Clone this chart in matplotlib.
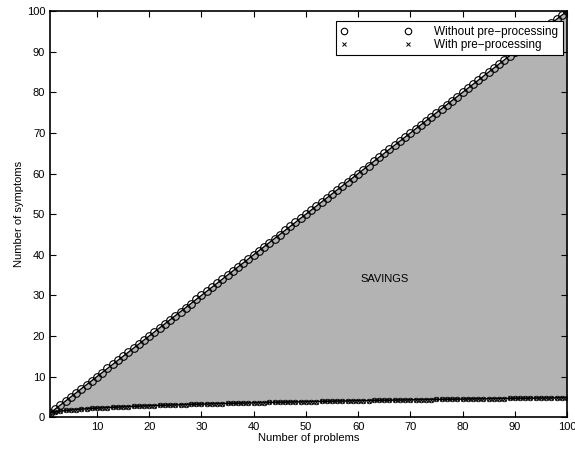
import numpy as np
import matplotlib
matplotlib.use("Agg")
import matplotlib.pyplot as plt

plt.rcParams['font.family'] = ['Liberation Sans', 'DejaVu Sans']

# number of problems (x axis)
problems = [
    1, 2, 3, 4, 5, 6, 7, 8, 9, 10,
    11, 12, 13, 14, 15, 16, 17, 18, 19, 20,
    21, 22, 23, 24, 25, 26, 27, 28, 29, 30,
    31, 32, 33, 34, 35, 36, 37, 38, 39, 40,
    41, 42, 43, 44, 45, 46, 47, 48, 49, 50,
    51, 52, 53, 54, 55, 56, 57, 58, 59, 60,
    61, 62, 63, 64, 65, 66, 67, 68, 69, 70,
    71, 72, 73, 74, 75, 76, 77, 78, 79, 80,
    81, 82, 83, 84, 85, 86, 87, 88, 89, 90,
    91, 92, 93, 94, 95, 96, 97, 98, 99, 100,
]

# symptoms without pre-processing
without_pre = [
    1, 2, 3, 4, 5, 6, 7, 8, 9, 10,
    11, 12, 13, 14, 15, 16, 17, 18, 19, 20,
    21, 22, 23, 24, 25, 26, 27, 28, 29, 30,
    31, 32, 33, 34, 35, 36, 37, 38, 39, 40,
    41, 42, 43, 44, 45, 46, 47, 48, 49, 50,
    51, 52, 53, 54, 55, 56, 57, 58, 59, 60,
    61, 62, 63, 64, 65, 66, 67, 68, 69, 70,
    71, 72, 73, 74, 75, 76, 77, 78, 79, 80,
    81, 82, 83, 84, 85, 86, 87, 88, 89, 90,
    91, 92, 93, 94, 95, 96, 97, 98, 99, 100,
]

# symptoms with pre-processing
with_pre = [
    1.00, 1.30, 1.50, 1.65, 1.78, 1.88, 1.98, 2.07, 2.15, 2.22,
    2.30, 2.36, 2.43, 2.49, 2.55, 2.60, 2.66, 2.71, 2.76, 2.81,
    2.85, 2.90, 2.94, 2.98, 3.02, 3.06, 3.10, 3.14, 3.18, 3.21,
    3.25, 3.28, 3.32, 3.35, 3.38, 3.41, 3.44, 3.48, 3.51, 3.54,
    3.57, 3.59, 3.62, 3.65, 3.68, 3.71, 3.73, 3.76, 3.78, 3.81,
    3.83, 3.86, 3.88, 3.91, 3.93, 3.96, 3.98, 4.00, 4.02, 4.05,
    4.07, 4.09, 4.11, 4.14, 4.16, 4.18, 4.20, 4.22, 4.24, 4.26,
    4.28, 4.30, 4.32, 4.34, 4.36, 4.38, 4.40, 4.42, 4.43, 4.45,
    4.47, 4.49, 4.51, 4.52, 4.54, 4.56, 4.58, 4.59, 4.61, 4.63,
    4.65, 4.66, 4.68, 4.70, 4.71, 4.73, 4.74, 4.76, 4.78, 4.80,
]

x_ticks = [10, 20, 30, 40, 50, 60, 70, 80, 90, 100]
y_ticks = [0, 10, 20, 30, 40, 50, 60, 70, 80, 90, 100]

fig = plt.figure(figsize=(5.75, 4.51), dpi=100)
ax = fig.add_axes([0.087, 0.075, 0.899, 0.9])

ax.fill_between(problems, with_pre, without_pre, color='#b3b3b3', lw=0)
ax.plot(problems, without_pre, 'k-', lw=1)
ax.plot(problems, with_pre, 'k-', lw=1)

ax.plot(problems, without_pre, 'o', ls='none', mfc='none', mec='k',
        ms=5.5, mew=0.8, label='Without pre\u2212processing')
ax.plot(problems, with_pre, 'o', ls='none', mfc='none', mec='k',
        ms=3.3, mew=0.6)
ax.plot(problems, with_pre, 'x', ls='none', mec='k',
        ms=3.5, mew=0.7, label='With pre\u2212processing')

ax.text(65, 34, 'SAVINGS', fontsize=8, ha='center', va='center')

ax.set_xlim(1, 100)
ax.set_ylim(0, 100)
ax.set_xticks(x_ticks)
ax.set_yticks(y_ticks)
ax.tick_params(direction='in', top=True, right=True, labelsize=8,
               length=4, width=0.8)
for s in ax.spines.values():
    s.set_linewidth(1.2)
ax.set_xlabel('Number of problems', fontsize=8, labelpad=1)
ax.set_ylabel('Number of symptoms', fontsize=8, labelpad=2)

leg = ax.legend(loc='upper right', fontsize=8.5, numpoints=2, markerscale=0.85,
                handlelength=6.0, handletextpad=1.9, borderpad=0.4,
                labelspacing=0.05, fancybox=False, framealpha=1,
                edgecolor='k', borderaxespad=0,
                bbox_to_anchor=(0.992, 0.975))
leg.get_frame().set_linewidth(0.8)

fig.savefig('out.png', dpi=100)
